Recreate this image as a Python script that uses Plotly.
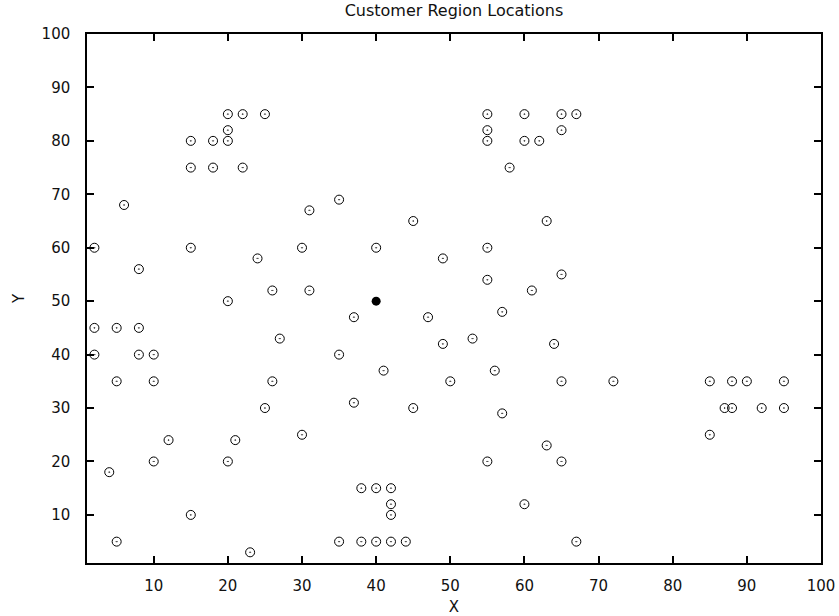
import plotly.graph_objects as go

depot_x = [40]
depot_y = [50]

cust_x = [25, 22, 22, 20, 20, 18, 15, 15, 10, 10, 8, 8, 5, 5, 2,
          44, 42, 42, 40, 40, 38, 38, 35, 95, 95, 92, 90, 88, 88, 87, 85, 85,
          67, 65, 65, 62, 60, 60, 58, 55, 55, 55, 20, 18, 2, 42, 42, 72, 55,
          25, 20, 55, 30, 50, 30, 15, 10, 15, 45, 65, 65, 45, 35, 41, 64, 40,
          31, 35, 65, 63, 2, 20, 5, 60, 23, 8, 6, 47, 49, 27, 37, 57, 63, 21,
          12, 24, 67, 37, 49, 53, 61, 57, 56, 55, 4, 26, 26, 31]
cust_y = [85, 75, 85, 80, 85, 75, 75, 80, 35, 40, 40, 45, 35, 45, 40,
          5, 10, 15, 5, 15, 5, 15, 5, 30, 35, 30, 35, 30, 35, 30, 25, 35,
          85, 85, 82, 80, 80, 85, 75, 80, 85, 82, 82, 80, 45, 5, 12, 35, 20,
          30, 50, 60, 60, 35, 25, 10, 20, 60, 65, 35, 20, 30, 40, 37, 42, 60,
          52, 69, 55, 65, 60, 20, 5, 12, 3, 56, 68, 47, 58, 43, 31, 29, 23, 24,
          24, 58, 5, 47, 42, 43, 52, 48, 37, 54, 18, 52, 35, 67]

x_ticks = [10, 20, 30, 40, 50, 60, 70, 80, 90, 100]
y_ticks = [10, 20, 30, 40, 50, 60, 70, 80, 90, 100]

font = "DejaVu Sans"
txt = "#111111"

fig = go.Figure()
fig.add_trace(go.Scatter(
    x=cust_x, y=cust_y, mode="markers",
    marker=dict(symbol="circle-open-dot", size=9, color="black",
                line=dict(color="black", width=1)),
    showlegend=False))
fig.add_trace(go.Scatter(
    x=depot_x, y=depot_y, mode="markers",
    marker=dict(symbol="circle", size=9, color="black"),
    showlegend=False))

axis_common = dict(
    showline=True, linecolor="black", linewidth=1.5, mirror="ticks",
    ticks="inside", ticklen=7, tickwidth=1.5, tickcolor="black",
    showgrid=False, zeroline=False, automargin=False,
    tickfont=dict(family=font, size=15, color=txt),
)

fig.update_layout(
    width=839, height=616,
    margin=dict(l=87, r=18, t=34, b=53),
    paper_bgcolor="white", plot_bgcolor="white",
    title=dict(text="Customer Region Locations", x=0.5, xanchor="center",
               xref="paper",
               y=1 - 10 / 616, yanchor="middle",
               font=dict(family=font, size=16, color=txt)),
    xaxis=dict(range=[1, 100], tickvals=x_ticks, ticklabelstandoff=8,
               title=dict(text="X", font=dict(family=font, size=15, color=txt),
                          standoff=9),
               **axis_common),
    yaxis=dict(range=[1, 100], tickvals=y_ticks, ticklabelstandoff=12,
               title=dict(text="Y", font=dict(family=font, size=15, color=txt),
                          standoff=13),
               **axis_common),
)

fig.write_html("out.html",
               config={"displayModeBar": False},
               post_script="document.body.style.margin='0';document.body.style.padding='0';")
